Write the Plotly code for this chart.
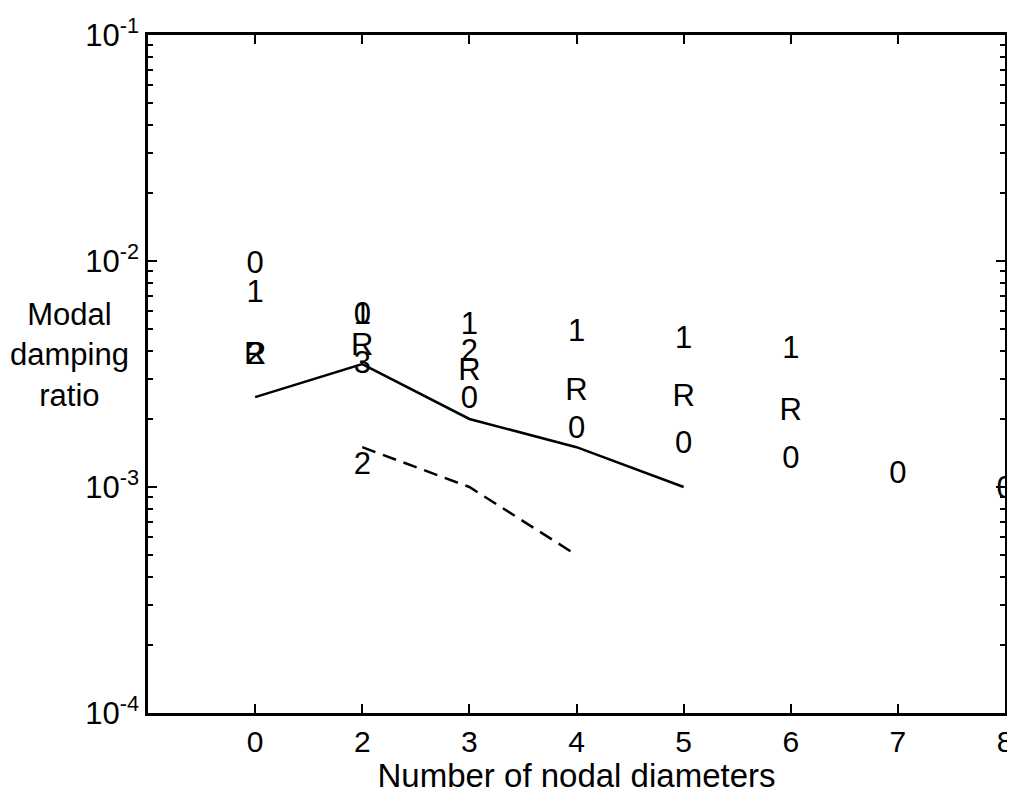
import plotly.graph_objects as go

# nodal diameter categories (plotted at equally spaced slots 1..8)
nodal_diameters = [0, 2, 3, 4, 5, 6, 7, 8]
slots = list(range(1, len(nodal_diameters) + 1))

# measured modal damping ratios, one text label per mode family
mode_0 = [0.0096, 0.0057, 0.00243, 0.00179, 0.00153, 0.00132, 0.00113, 0.00097]
mode_1 = [0.0071, 0.0057, 0.00515, 0.0048, 0.00446, 0.00403]
mode_r = [0.0038, 0.00416, 0.00323, 0.00263, 0.00248, 0.00215]
mode_2 = [0.0038, 0.00124, 0.0039]
mode_3 = [0.00347]

# predicted damping curves
pred_solid = [0.0025, 0.0035, 0.002, 0.0015, 0.001]
pred_dashed = [0.0015, 0.001, 0.0005]

y_ticks = [1e-4, 1e-3, 1e-2, 1e-1]
y_labels = ["10<sup>-4</sup>", "10<sup>-3</sup>", "10<sup>-2</sup>", "10<sup>-1</sup>"]

FONT = "Liberation Sans, Arial, Helvetica, sans-serif"

fig = go.Figure()

fig.add_trace(go.Scatter(x=slots[:5], y=pred_solid, mode="lines",
                         line=dict(color="black", width=2.5)))
fig.add_trace(go.Scatter(x=slots[1:4], y=pred_dashed, mode="lines",
                         line=dict(color="black", width=2.5, dash="14px,8px")))


def add_labels(xs, ys, label):
    fig.add_trace(go.Scatter(
        x=xs, y=ys, mode="text", text=[label] * len(ys),
        textposition="middle center",
        textfont=dict(family=FONT, size=31, color="black"),
        cliponaxis=False,
    ))


add_labels(slots, mode_0, "0")
add_labels(slots[:6], mode_1, "1")
add_labels(slots[:6], mode_r, "R")
add_labels([slots[0], slots[1], slots[2]], mode_2, "2")
add_labels([slots[1]], mode_3, "3")

fig.add_annotation(
    text="Modal<br>damping<br>ratio", xref="paper", yref="paper",
    x=-0.092, y=0.528, xanchor="center", yanchor="middle", showarrow=False,
    font=dict(family=FONT, size=31, color="black"), align="center",
)

# page has an 8px body margin, so the figure is sized to fit inside it
fig.update_layout(
    width=1007, height=786,
    margin=dict(l=140, r=10, t=27, b=81, autoexpand=False),
    paper_bgcolor="white", plot_bgcolor="white",
    showlegend=False,
    font=dict(family=FONT, size=30, color="black"),
    xaxis=dict(
        range=[0, 8], tickvals=slots, ticktext=[str(n) for n in nodal_diameters],
        ticks="inside", ticklen=9, tickwidth=2, tickcolor="black",
        showline=True, linecolor="black", linewidth=2.5, mirror="ticks",
        showgrid=False, zeroline=False, automargin=False,
        title=dict(text="Number of nodal diameters", standoff=3,
                   font=dict(family=FONT, size=33)),
        tickfont=dict(family=FONT, size=30),
    ),
    yaxis=dict(
        type="log", range=[-4, -1], tickvals=y_ticks, ticktext=y_labels,
        ticks="inside", ticklen=9, tickwidth=2, tickcolor="black",
        showline=True, linecolor="black", linewidth=2.5, mirror="ticks",
        showgrid=False, zeroline=False, automargin=False,
        tickfont=dict(family=FONT, size=31),
        minor=dict(dtick="D1", ticks="inside", ticklen=5, tickwidth=2,
                   tickcolor="black", showgrid=False),
    ),
)

fig.write_html("out.html")
